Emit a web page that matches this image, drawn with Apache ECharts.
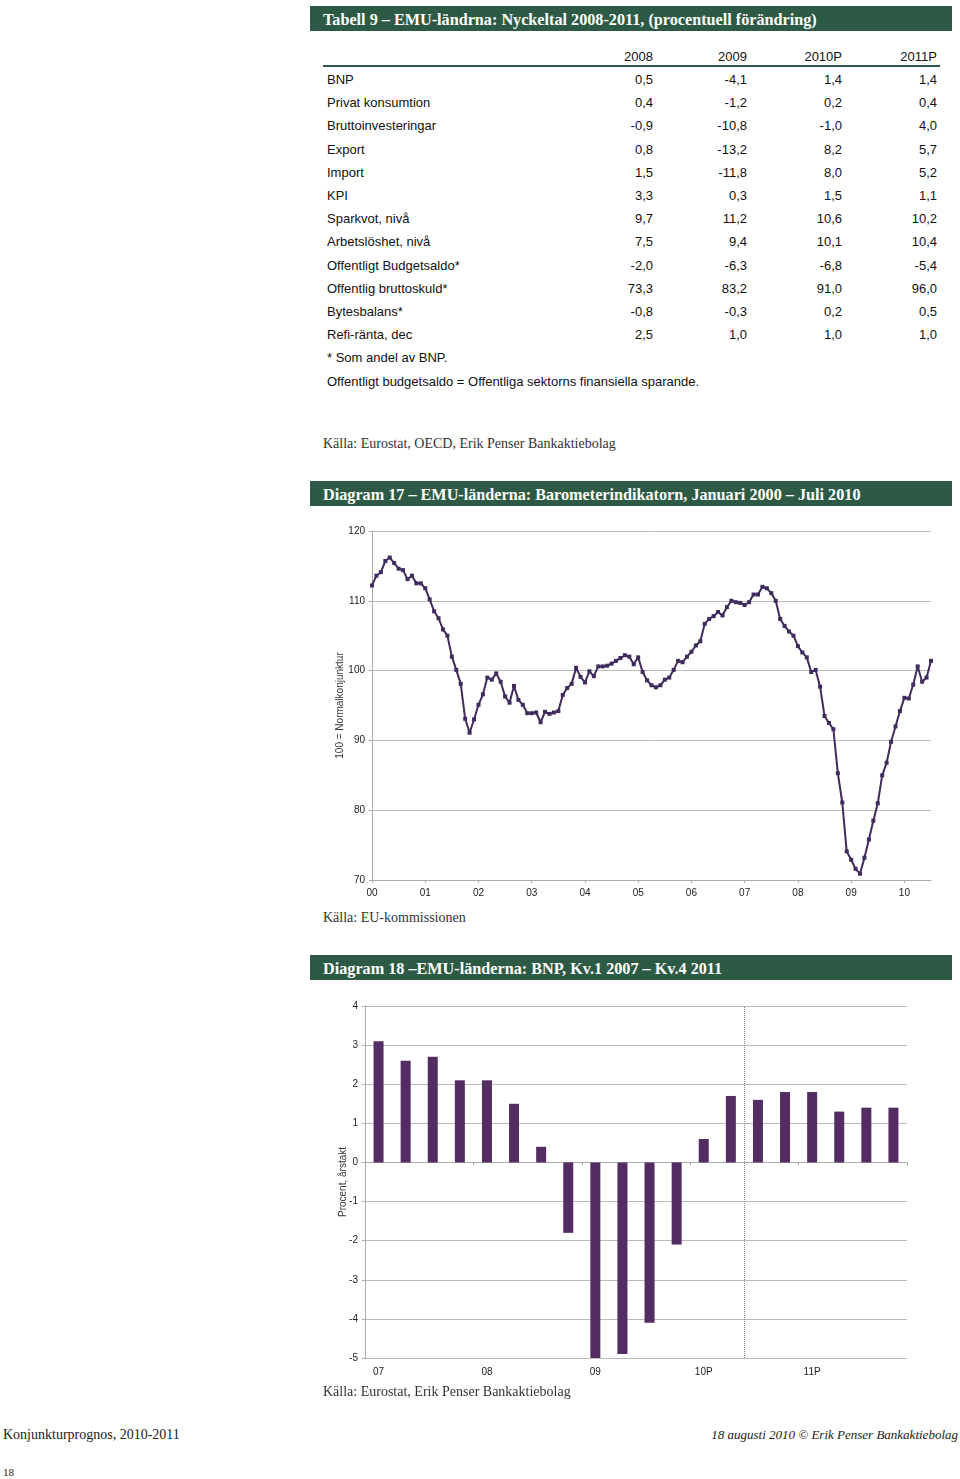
<!DOCTYPE html>
<html><head><meta charset="utf-8">
<script src="https://cdn.jsdelivr.net/npm/echarts/dist/echarts.min.js"></script>
<style>
html,body{margin:0;padding:0;background:#fff;}
body{width:960px;height:1479px;position:relative;overflow:hidden;}
.t{position:absolute;white-space:nowrap;height:16px;line-height:16px;}
.sans{font-family:"Liberation Sans",Arial,sans-serif;font-size:13px;color:#111;}
.serif{font-family:"Liberation Serif","DejaVu Serif",serif;}
.bar{position:absolute;left:310px;width:642px;height:25px;background:#2d5a45;color:#fff;overflow:hidden;
 font-family:"Liberation Serif",serif;font-weight:bold;font-size:16.2px;line-height:28px;padding-left:13px;box-sizing:border-box;}
.src{font-family:"Liberation Serif",serif;font-size:14px;color:#333;}
#c1{position:absolute;left:310px;top:515px;width:650px;height:395px;}
#c2{position:absolute;left:310px;top:990px;width:650px;height:395px;}
</style></head><body>
<div class="bar" style="top:6px">Tabell 9 – EMU-ländrna: Nyckeltal 2008-2011, (procentuell förändring)</div>
<div id="table"></div>
<div class="t src" style="left:323px;top:436px">Källa: Eurostat, OECD, Erik Penser Bankaktiebolag</div>
<div class="bar" style="top:481px">Diagram 17 – EMU-länderna: Barometerindikatorn, Januari 2000 – Juli 2010</div>
<div id="c1"></div>
<div class="t src" style="left:323px;top:910px">Källa: EU-kommissionen</div>
<div class="bar" style="top:955px">Diagram 18 –EMU-länderna: BNP, Kv.1 2007 – Kv.4 2011</div>
<div id="c2"></div>
<div class="t src" style="left:323px;top:1384px">Källa: Eurostat, Erik Penser Bankaktiebolag</div>
<div class="t serif" style="left:3px;top:1427px;font-size:14px;color:#222">Konjunkturprognos, 2010-2011</div>
<div class="t serif" style="right:2px;top:1427px;font-size:13px;font-style:italic;color:#222">18 augusti 2010 © Erik Penser Bankaktiebolag</div>
<div class="t serif" style="left:3px;top:1464px;font-size:11px;color:#222">18</div>
<script>
// ---- Table data ----
const tableCols = ['2008','2009','2010P','2011P'];
const tableRows = ['BNP','Privat konsumtion','Bruttoinvesteringar','Export','Import','KPI','Sparkvot, nivå','Arbetslöshet, nivå','Offentligt Budgetsaldo*','Offentlig bruttoskuld*','Bytesbalans*','Refi-ränta, dec'];
const val2008 = ['0,5','0,4','-0,9','0,8','1,5','3,3','9,7','7,5','-2,0','73,3','-0,8','2,5'];
const val2009 = ['-4,1','-1,2','-10,8','-13,2','-11,8','0,3','11,2','9,4','-6,3','83,2','-0,3','1,0'];
const val2010 = ['1,4','0,2','-1,0','8,2','8,0','1,5','10,6','10,1','-6,8','91,0','0,2','1,0'];
const val2011 = ['1,4','0,4','4,0','5,7','5,2','1,1','10,2','10,4','-5,4','96,0','0,5','1,0'];
const tableNotes = ['* Som andel av BNP.','Offentligt budgetsaldo = Offentliga sektorns finansiella sparande.'];

// ---- Diagram 17: Barometerindikatorn, monthly Jan 2000 - Jul 2010 ----
const baroValues = [
112.2,113.6,114.1,115.7,116.2,115.4,114.6,114.4,113.1,113.6,112.5,112.5,
111.8,110.2,108.5,107.5,105.9,105.0,102.0,100.1,98.1,93.1,91.1,93.0,
95.1,96.6,99.0,98.7,99.6,98.4,96.3,95.4,97.8,95.8,95.1,93.9,
93.9,94.0,92.6,94.1,93.8,94.0,94.2,96.5,97.5,98.1,100.4,99.1,
98.3,99.9,99.2,100.6,100.6,100.7,101.0,101.4,101.8,102.2,102.0,100.9,
101.9,99.8,98.6,97.9,97.6,97.9,98.7,99.0,100.1,101.4,101.2,102.0,
102.7,103.6,104.2,106.7,107.4,107.8,108.4,107.9,109.1,110.0,109.8,109.7,
109.4,109.8,110.9,110.9,112.0,111.8,111.1,110.0,107.4,106.4,105.6,105.0,
103.5,102.6,101.9,99.8,100.1,97.7,93.5,92.5,91.6,85.3,81.1,74.1,
72.9,71.6,70.9,73.2,75.8,78.5,81.0,85.0,86.8,89.8,92.0,94.2,
96.1,96.0,98.0,100.6,98.4,99.0,101.4];
const baroYears = ['00','01','02','03','04','05','06','07','08','09','10'];
const baroMonths = [];
baroYears.forEach(y => { for (let m = 1; m <= 12; m++) baroMonths.push(y + '-' + (m < 10 ? '0' : '') + m); });
baroMonths.length = baroValues.length;

// ---- Diagram 18: BNP quarterly 2007 Q1 - 2011 Q4 ----
const bnpYears = ['07','08','09','10P','11P'];
const bnpQuarters = [];
bnpYears.forEach(y => { for (let q = 1; q <= 4; q++) bnpQuarters.push(y + ' Kv' + q); });
const bnpValues = [3.1,2.6,2.7,2.1, 2.1,1.5,0.4,-1.8, -5.0,-4.9,-4.1,-2.1, 0.6,1.7,1.6,1.8, 1.8,1.3,1.4,1.4];
const forecastStart = 14; // boundary between 10 Kv2 and 10 Kv3

// ---- build table ----
(function(){
  const t = document.getElementById('table');
  let html = '';
  const colX = [653, 747, 842, 937];
  const put = (txt, x, y, right) => {
    html += '<div class="t sans" style="' + (right ? 'right:' + (960 - x) + 'px' : 'left:' + x + 'px') + ';top:' + (y - 8) + 'px">' + txt + '</div>';
  };
  tableCols.forEach((c, i) => put(c, colX[i], 57, true));
  html += '<div style="position:absolute;left:323px;top:65px;width:617px;height:2px;background:#2d5a45"></div>';
  const cols = [val2008, val2009, val2010, val2011];
  tableRows.forEach((r, i) => {
    const y = 80 + i * 23.2;
    put(r, 327, y, false);
    cols.forEach((c, j) => put(c[i], colX[j], y, true));
  });
  put(tableNotes[0], 327, 358, false);
  put(tableNotes[1], 327, 382, false);
  t.innerHTML = html;
})();

const axisFont = {fontFamily: 'Liberation Sans, Arial, sans-serif', fontSize: 10, color: '#222'};

// ---- chart 1 ----
const c1 = echarts.init(document.getElementById('c1'), null, {renderer: 'canvas'});
c1.setOption({
  animation: false,
  grid: {left: 62, right: 29, top: 16, bottom: 30},
  xAxis: {
    type: 'category', data: baroMonths, boundaryGap: false,
    axisLine: {lineStyle: {color: '#aaa'}},
    axisTick: {interval: 11, length: 3, lineStyle: {color: '#aaa'}},
    axisLabel: Object.assign({interval: 11, margin: 8, formatter: v => v.slice(0, 2)}, axisFont),
    splitLine: {show: false}
  },
  yAxis: {
    type: 'value', min: 70, max: 120, interval: 10,
    name: '100 = Normalkonjunktur', nameLocation: 'middle', nameGap: 27, nameMoveOverlap: false,
    nameTextStyle: {fontFamily: 'Liberation Sans, Arial, sans-serif', fontSize: 10, color: '#333'},
    axisLine: {show: true, lineStyle: {color: '#aaa'}},
    axisTick: {show: true, length: 3, lineStyle: {color: '#aaa'}},
    axisLabel: Object.assign({margin: 7}, axisFont),
    splitLine: {lineStyle: {color: '#bbb', width: 1}}
  },
  series: [{
    type: 'line', data: baroValues,
    symbol: 'rect', symbolSize: 4, showSymbol: true, showAllSymbol: true,
    itemStyle: {color: '#3f2b5c'},
    lineStyle: {color: '#3f2b5c', width: 2}
  }]
});

// ---- chart 2 ----
const c2 = echarts.init(document.getElementById('c2'), null, {renderer: 'canvas'});
c2.setOption({
  animation: false,
  grid: {left: 55, right: 53, top: 16, bottom: 27},
  xAxis: [{
    type: 'category', data: bnpQuarters, position: 'bottom',
    axisLine: {show: false, onZero: false},
    axisTick: {show: false},
    axisLabel: Object.assign({interval: 3, margin: 9, formatter: v => v.split(' ')[0]}, axisFont)
  }, {
    type: 'value', min: 0, max: bnpQuarters.length, interval: 4, position: 'bottom',
    axisLine: {show: true, onZero: true, lineStyle: {color: '#aaa'}},
    axisTick: {show: true, length: 3, inside: false, lineStyle: {color: '#aaa'}},
    axisLabel: {show: false}, splitLine: {show: false}
  }],
  yAxis: {
    type: 'value', min: -5, max: 4, interval: 1,
    name: 'Procent, årstakt', nameLocation: 'middle', nameGap: 17, nameMoveOverlap: false,
    nameTextStyle: {fontFamily: 'Liberation Sans, Arial, sans-serif', fontSize: 10, color: '#333'},
    axisLine: {show: true, lineStyle: {color: '#aaa'}},
    axisTick: {show: true, length: 3, lineStyle: {color: '#aaa'}},
    axisLabel: Object.assign({margin: 7}, axisFont),
    splitLine: {lineStyle: {color: '#bbb', width: 1}}
  },
  series: [{
    type: 'bar', data: bnpValues, xAxisIndex: 0, barWidth: 10,
    itemStyle: {color: '#532c64'}
  }, {
    type: 'line', xAxisIndex: 1, data: [], silent: true,
    markLine: {
      symbol: 'none', silent: true, label: {show: false},
      lineStyle: {type: 'dotted', color: '#888', width: 1},
      data: [{xAxis: forecastStart}]
    }
  }]
});
</script>
</body></html>
